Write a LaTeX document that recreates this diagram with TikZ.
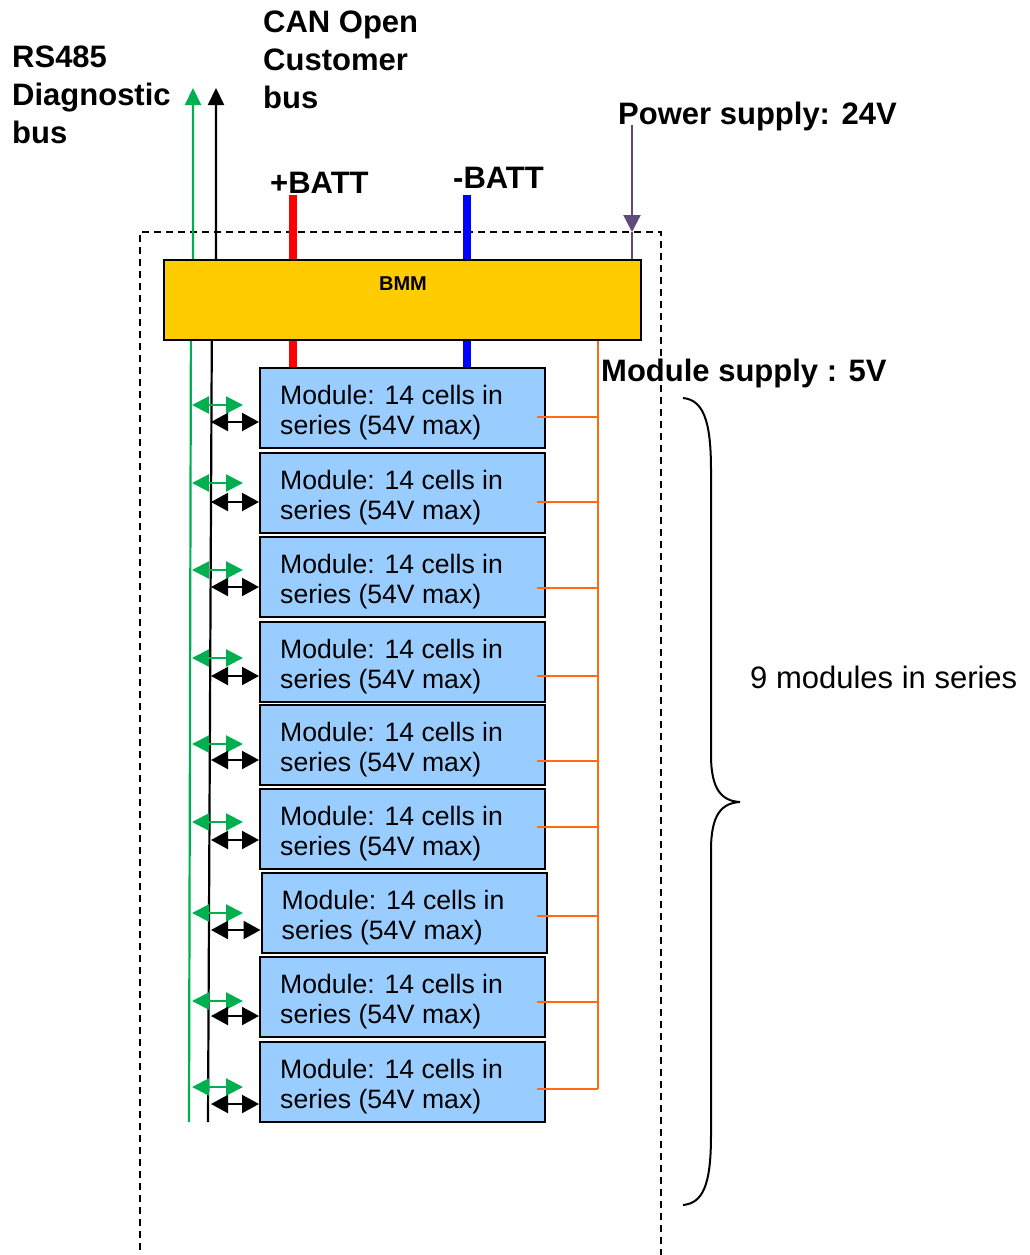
\documentclass[tikz,border=0pt]{standalone}
\usepackage{fontspec}
\setmainfont{Liberation Sans}
\usetikzlibrary{arrows.meta}
\definecolor{bmmyellow}{HTML}{FFCC00}
\definecolor{modblue}{HTML}{99CCFF}
\definecolor{busgreen}{HTML}{00B050}
\definecolor{supplyorange}{HTML}{FF6A13}
\definecolor{pwrpurple}{HTML}{604A7B}
\tikzset{
  lbl/.style={font=\fontsize{31}{38}\selectfont\bfseries, anchor=base west, inner sep=0pt, align=left},
  modbox/.style={draw=black, line width=2pt, fill=modblue, minimum width=285pt, minimum height=80pt, inner sep=0pt},
  modtext/.style={font=\fontsize{26.6}{29.5}\selectfont, anchor=base west, inner sep=0pt, align=left},
  greenarr/.style={busgreen, line width=2.2pt, {Triangle[length=17pt,width=17pt]}-{Triangle[length=17pt,width=17pt]}},
  blackarr/.style={black, line width=2.2pt, {Triangle[length=17pt,width=18pt]}-{Triangle[length=17pt,width=18pt]}},
  busline/.style={line width=2.2pt},
  orangeline/.style={supplyorange, line width=1.6pt},
}
\begin{document}
\begin{tikzpicture}[x=1pt,y=-1pt]
\useasboundingbox (0,0) rectangle (1029,1255);
% dashed enclosure
\begin{scope}
\clip (0,0) rectangle (1029,1255);
\draw[dashed, dash pattern=on 7pt off 5pt, line width=2pt] (140,1262) -- (140,232) -- (661,232) -- (661,1262);
\end{scope}
% labels (base = baseline of last line)
\node[lbl] (rs) at (12,143) {RS485\\Diagnostic\\bus};
\node[lbl] (can) at (263,108) {CAN Open\\Customer\\bus};
\node[lbl] (pbatt) at (270,193) {+BATT};
\node[lbl] (nbatt) at (453,188) {-BATT};
\node[lbl] (pwr) at (618,124) {Power supply: 24V};
\node[lbl] (msup) at (601,381) {Module supply : 5V};
\node[font=\fontsize{31}{38}\selectfont, anchor=base west, inner sep=0pt] (nine) at (750,688) {9 modules in series};
% coordinates
\coordinate (gbot) at (189,1122);
\coordinate (gmid) at (191,300);
\coordinate (gtop) at (193,88);
\coordinate (kbot) at (208,1122);
\coordinate (kmid) at (212,300);
\coordinate (kup) at (216,260);
\coordinate (ktop) at (216,88);
\coordinate (rtop) at (293,195);
\coordinate (btop) at (467,195);
\coordinate (ptop) at (632,125);
\coordinate (ptip) at (632,232);
% bus lines
\draw[busline, busgreen, -{Triangle[length=17pt,width=16pt]}] (gbot) -- (gmid) -- (193,260) -- (gtop);
\draw[busline, black, -{Triangle[length=17pt,width=16pt]}] (kbot) -- (kmid) -- (kup) -- (ktop);
% battery lines
\draw[red, line width=7.5pt] (rtop) -- (293,368);
\draw[blue, line width=7.5pt] (btop) -- (467,368);
% power supply
\draw[pwrpurple, line width=2.2pt, -{Triangle[length=17pt,width=17pt]}] (ptop) -- (ptip);
\draw[pwrpurple, line width=2.2pt] (ptip) -- (632,260);
% orange supply bus
\draw[orangeline] (598,340) -- (598,1089);
% BMM
\node[draw=black, line width=2.2pt, fill=bmmyellow, minimum width=477pt, minimum height=80pt, inner sep=0pt] (bmm) at (402.5,300) {};
\node[font=\fontsize{20}{24}\selectfont\bfseries, anchor=base, inner sep=0pt] (bmmt) at (403,290) {BMM};
% modules
\foreach \i/\t/\dx/\oy/\gy/\ky in {1/368/0/417/405/422, 2/453/0/502/483/502, 3/537/0/588/570/587, 4/622/0/676/658/676, 5/705/0/761/744/760, 6/789/0/827/822/840, 7/873/1.5/916/913/930, 8/957/0/1002/1001/1016, 9/1042/0/1089/1087/1104}{
  \node[modbox] (m\i) at (402.5+\dx,\t+40) {};
  \node[modtext] (t\i) at (280+\dx,\t+66) {Module: 14 cells in\\series (54V max)};
  \coordinate (o\i) at (598,\oy);
  \draw[orangeline] (537,\oy) -- (o\i);
  \draw[greenarr] (192,\gy) -- (243,\gy);
  \draw[blackarr] (211,\ky) -- (m\i.west |- 0,\ky);
}
% brace
\draw[line width=2pt] (683,398) .. controls (703,400) and (711,420) .. (711,470) -- (711,755) .. controls (711,790) and (722,801) .. (740,802) .. controls (722,803) and (711,814) .. (711,850) -- (711,1135) .. controls (711,1185) and (703,1203) .. (683,1205);
\end{tikzpicture}
\end{document}
